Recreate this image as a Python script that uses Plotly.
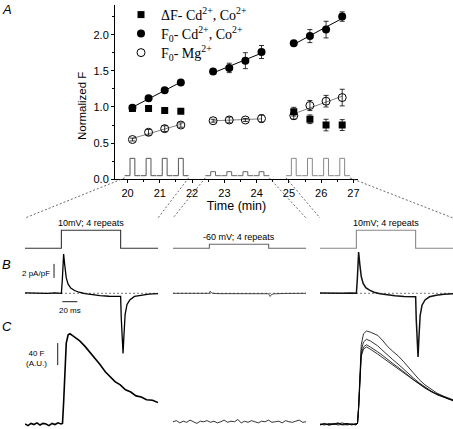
import numpy as np
import plotly.graph_objects as go

W, H = 453, 429

# ================= Panel A data =================
t_min = [20.15, 20.65, 21.15, 21.65, 22.65, 23.15, 23.65, 24.15, 25.15, 25.65, 26.15, 26.65]
groups = [0, 0, 0, 0, 1, 1, 1, 1, 2, 2, 2, 2]
f0_cdco = [0.99, 1.12, 1.23, 1.34, 1.49, 1.54, 1.64, 1.76, 1.88, 1.98, 2.07, 2.25]
f0_cdco_err = [0.02, 0.02, 0.02, 0.02, 0.03, 0.065, 0.11, 0.09, 0.02, 0.09, 0.115, 0.065]
f0_mg = [0.55, 0.65, 0.70, 0.75, 0.81, 0.82, 0.82, 0.84, 0.88, 1.02, 1.08, 1.13]
f0_mg_err = [0.02, 0.04, 0.04, 0.03, 0.02, 0.04, 0.02, 0.05, 0.05, 0.07, 0.08, 0.115]
df_t = [20.15, 20.65, 21.15, 21.65, 25.15, 25.65, 26.15, 26.65]
df_cdco = [0.98, 0.98, 0.95, 0.94, 0.935, 0.83, 0.75, 0.75]
df_err = [0.01, 0.01, 0.01, 0.01, 0.06, 0.06, 0.08, 0.075]
pulse_base = 0.05
pulse_top = [0.29, 0.105, 0.29]
x_ticks = [20, 21, 22, 23, 24, 25, 26, 27]
y_ticks = [0.0, 0.5, 1.0, 1.5, 2.0]

# ================= Panels B / C data =================
t_on, t_off, t_end = 48.5, 127.5, 177.3          # ms
hold_mv = -80
test_mv = [10, -60, 10]
proto_labels = ["10mV; 4 repeats", "-60 mV; 4 repeats", "10mV; 4 repeats"]

cur_t1 = [0, 10, 20, 30, 40, 48.5, 49.8, 51.5, 53, 55, 57.5, 61, 66, 72, 80, 90, 100, 112, 127.5, 128.3,
          129.5, 130.7, 132, 133.5, 136, 140, 146, 155, 165, 177.3]
cur_1 = [0.05, 0, 0.05, 0, 0.05, 0, 2.0, 5.6, 4.0, 2.2, 1.3, 0.75, 0.4, 0.15, -0.05, -0.2, -0.33, -0.42, -0.45, -3.5,
         -7.8, -8.6, -5.8, -3.0, -1.6, -0.9, -0.45, -0.25, -0.12, -0.05]
cur_t2 = [0, 20, 40, 48.5, 49.5, 50.5, 52, 60, 80, 100, 127.5, 128.5, 129.5, 131, 134, 150, 177.3]
cur_2 = [0, 0.03, 0, 0, 0.3, 0.15, 0.02, -0.05, -0.05, -0.06, -0.06, -0.3, -0.45, -0.2, -0.08, -0.02, 0]
cur_t3 = [0, 10, 20, 30, 40, 48.5, 49.8, 51.5, 53, 55, 57.5, 61, 66, 72, 80, 90, 100, 112, 127.5, 128.3,
          129.5, 130.7, 132, 133.5, 136, 140, 146, 155, 165, 177.3]
cur_3 = [0.05, 0, 0.05, 0, 0.05, 0, 2.1, 5.9, 4.2, 2.4, 1.4, 0.8, 0.45, 0.15, -0.05, -0.22, -0.35, -0.45, -0.48, -3.7,
         -8.2, -9.1, -6.1, -3.2, -1.7, -0.95, -0.5, -0.27, -0.13, -0.05]

fl_t1 = [0, 4, 8, 12, 16, 20, 24, 28, 32, 36, 40, 44, 48, 50, 51.5, 53, 55, 57.5, 60, 63, 67, 73, 80,
         87, 94, 100, 107, 113, 120, 127, 134, 141, 148, 155, 162, 170, 177.3]
fl_1 = [1, -2, 2, 0, 3, -1, 2, 1, -2, 2, 0, 3, 1, 2, 40, 100, 148, 163, 165, 162, 158, 152, 142,
        131, 119, 109, 96, 88, 78, 72, 63, 59, 52, 50, 45, 44, 40]
fl_2 = [5, 7, 3, 6, 4, 8, 5, 2, 6, 5, 7, 4, 6, 3, 5, 8, 4, 6, 5, 9, 3, 6, 4, 7, 5, 3, 6, 5, 8, 4,
        5, 6, 3, 7, 5, 4, 6, 8, 4, 5]
fl_t3 = [0, 6, 12, 18, 24, 30, 36, 42, 48, 50, 51.5, 53, 55, 58, 62, 67, 72, 77, 84, 90, 97, 104,
         111, 118, 125, 132, 140, 148, 156, 164, 171, 177.3]
fl_3a = [0, 2, -1, 1, 3, 0, 2, -1, 1, 2, 35, 95, 145, 165, 170, 168, 165, 162, 152, 142, 133, 125,
         115, 104, 93, 82, 72, 64, 57, 52, 48, 45]
fl_3b = [1, -1, 2, 0, 1, 3, -1, 1, 0, 2, 32, 88, 135, 150, 155, 152, 148, 143, 134, 126, 118, 110,
         101, 92, 84, 76, 68, 61, 55, 50, 47, 44]
fl_3c = [-1, 1, 0, 2, -1, 1, 2, 0, 1, 2, 30, 84, 128, 141, 145, 141, 137, 132, 125, 118, 111, 104,
         97, 89, 81, 74, 67, 60, 55, 50, 47, 44]
fl_3d = [0, 1, -1, 0, 2, -1, 0, 1, -1, 2, 28, 80, 124, 137, 141, 137, 133, 128, 121, 115, 108, 102,
         95, 87, 80, 73, 66, 60, 54, 50, 46, 43]

scale_I, scale_t, scale_F = 2, 20, 40

# ================= layout geometry (pixels) =================
A_x_px, A_y_px = (115, 358), (5, 179.3)
A_xr, A_yr = [19.61, 27.14], [0, 2.41]
col_px = [(25, 158), (173, 306), (320, 453)]


def px2x(p):
    return p / W


def px2y(p):
    return 1 - p / H


def lin_axis(px_top, px_bot, px_ref, val_ref, px_per_unit):
    top = val_ref + (px_ref - px_top) / px_per_unit
    bot = val_ref - (px_bot - px_ref) / px_per_unit
    return [px2y(px_bot), px2y(px_top)], [bot, top]


A_xdom = [px2x(A_x_px[0]), px2x(A_x_px[1])]
A_ydom = [px2y(A_y_px[1]), px2y(A_y_px[0])]
pro_dom, pro_rng = lin_axis(222, 252, 248.3, hold_mv, 0.2)
cur_dom, cur_rng = lin_axis(246, 362, 293.3, 0, 7.0)
fl_dom, fl_rng = lin_axis(322, 429, 424.5, 0, 0.55)


def a_paper(t, v):
    xp = A_xdom[0] + (t - A_xr[0]) / (A_xr[1] - A_xr[0]) * (A_xdom[1] - A_xdom[0])
    yp = A_ydom[0] + (v - A_yr[0]) / (A_yr[1] - A_yr[0]) * (A_ydom[1] - A_ydom[0])
    return xp, yp


fig = go.Figure()

# ---------- Panel A: stimulus schematic ----------
pulse_colors = ["#555555", "#666666", "#888888"]
pad, half_w = 0.24, 0.075
for g in range(3):
    ts = [t for t, gg in zip(t_min, groups) if gg == g]
    xs, ys = [], []
    for t in ts:
        xs += [t - pad, t - half_w, t - half_w, t + half_w, t + half_w, t + pad, None]
        ys += [pulse_base, pulse_base, pulse_top[g], pulse_top[g], pulse_base, pulse_base, None]
    fig.add_trace(go.Scatter(x=xs, y=ys, mode="lines", line=dict(color=pulse_colors[g], width=1),
                             showlegend=False, hoverinfo="skip", xaxis="x", yaxis="y"))

# ---------- Panel A: linear fits ----------
for vals, col in [(f0_cdco, "black"), (f0_mg, "#808080")]:
    for g in range(3):
        ts = np.array([t for t, gg in zip(t_min, groups) if gg == g])
        vs = np.array([v for v, gg in zip(vals, groups) if gg == g])
        k, b = np.polyfit(ts, vs, 1)
        xe = np.array([ts.min(), ts.max()])
        fig.add_trace(go.Scatter(x=xe, y=k * xe + b, mode="lines", line=dict(color=col, width=1),
                                 showlegend=False, hoverinfo="skip", xaxis="x", yaxis="y"))

err_style = dict(type="data", visible=True, color="black", thickness=0.8, width=2.5)
fig.add_trace(go.Scatter(x=df_t, y=df_cdco, mode="markers", name="ΔF- Cd<sup>2+</sup>, Co<sup>2+</sup>",
                         legend="legend",
                         marker=dict(symbol="square", size=7, color="black"),
                         error_y=dict(array=df_err, **err_style), xaxis="x", yaxis="y"))
fig.add_trace(go.Scatter(x=t_min, y=f0_cdco, mode="markers", name="F<sub>0</sub>- Cd<sup>2+</sup>, Co<sup>2+</sup>",
                         legend="legend2",
                         marker=dict(symbol="circle", size=8, color="black"),
                         error_y=dict(array=f0_cdco_err, **err_style), xaxis="x", yaxis="y"))
fig.add_trace(go.Scatter(x=t_min, y=f0_mg, mode="markers", name="F<sub>0</sub>- Mg<sup>2+</sup>",
                         legend="legend3",
                         marker=dict(symbol="circle-open", size=8, color="black", line=dict(width=1)),
                         error_y=dict(array=f0_mg_err, **err_style), xaxis="x", yaxis="y"))

# ---------- Panels B / C ----------
xa = ["x2", "x3", "x4"]
pro_colors = ["#333333", "#666666", "#888888"]
for c in range(3):
    fig.add_trace(go.Scatter(x=[0, t_on, t_off, t_end], y=[hold_mv, test_mv[c], hold_mv, hold_mv],
                             mode="lines", line=dict(color=pro_colors[c], width=1.1, shape="hv"),
                             showlegend=False, hoverinfo="skip", xaxis=xa[c], yaxis="y2"))
    fig.add_trace(go.Scatter(x=[0, t_end], y=[0, 0], mode="lines",
                             line=dict(color="#555555", width=0.8, dash="2px,2px"),
                             showlegend=False, hoverinfo="skip", xaxis=xa[c], yaxis="y3"))

cur_sets = [(cur_t1, cur_1, 1.3, "black"), (cur_t2, cur_2, 0.8, "#222222"), (cur_t3, cur_3, 1.5, "#111111")]
for c, (tt, yy, w, col) in enumerate(cur_sets):
    fig.add_trace(go.Scatter(x=tt, y=yy, mode="lines", line=dict(color=col, width=w),
                             showlegend=False, hoverinfo="skip", xaxis=xa[c], yaxis="y3"))

fig.add_trace(go.Scatter(x=fl_t1, y=fl_1, mode="lines", line=dict(color="black", width=1.6),
                         showlegend=False, hoverinfo="skip", xaxis="x2", yaxis="y4"))
fl_t2 = np.linspace(0, t_end, len(fl_2))
fig.add_trace(go.Scatter(x=fl_t2, y=fl_2, mode="lines", line=dict(color="black", width=0.8),
                         showlegend=False, hoverinfo="skip", xaxis="x3", yaxis="y4"))
for trace in [fl_3a, fl_3b, fl_3c, fl_3d]:
    fig.add_trace(go.Scatter(x=fl_t3, y=trace, mode="lines", line=dict(color="black", width=0.8),
                             showlegend=False, hoverinfo="skip", xaxis="x4", yaxis="y4"))

# scale bars (column 1 coordinates)
bar_I_t, bar_I_y0 = 38.7, 2.2
bar_t_t0, bar_t_y = 49.7, -1.2
bar_F_t, bar_F_y0 = 43.6, 108
fig.add_trace(go.Scatter(x=[bar_I_t, bar_I_t], y=[bar_I_y0, bar_I_y0 + scale_I], mode="lines",
                         line=dict(color="black", width=0.9), showlegend=False, hoverinfo="skip",
                         xaxis="x2", yaxis="y3"))
fig.add_trace(go.Scatter(x=[bar_t_t0, bar_t_t0 + scale_t], y=[bar_t_y, bar_t_y], mode="lines",
                         line=dict(color="black", width=0.9), showlegend=False, hoverinfo="skip",
                         xaxis="x2", yaxis="y3"))
fig.add_trace(go.Scatter(x=[bar_F_t, bar_F_t], y=[bar_F_y0, bar_F_y0 + scale_F], mode="lines",
                         line=dict(color="black", width=0.9), showlegend=False, hoverinfo="skip",
                         xaxis="x2", yaxis="y4"))

# ---------- connectors (dashed zoom lines) ----------
conn_y_px = 218
shapes = []
for g in range(3):
    ts = [t for t, gg in zip(t_min, groups) if gg == g]
    for t_top, px_bot in [(min(ts) - pad, col_px[g][0]), (max(ts) + pad, col_px[g][1])]:
        x0, y0 = a_paper(t_top, pulse_base * 0.4)
        shapes.append(dict(type="line", xref="paper", yref="paper", x0=x0, y0=y0,
                           x1=px2x(px_bot), y1=px2y(conn_y_px),
                           line=dict(color="#444444", width=0.8, dash="2px,2px")))

# ---------- annotations ----------
small = dict(family="Liberation Sans", size=8, color="black")
ann = []
for c in range(3):
    ann.append(dict(x=(t_on + t_off) / 2, y=test_mv[c], xref=xa[c], yref="y2", text=proto_labels[c],
                    showarrow=False, xanchor="center", yanchor="bottom", yshift=0,
                    font=dict(family="Liberation Sans", size=9, color="black")))
ann.append(dict(x=bar_I_t, y=bar_I_y0 + scale_I / 2, xref="x2", yref="y3", text="2 pA/pF",
                showarrow=False, xanchor="right", yanchor="middle", xshift=-2, yshift=-3, font=small))
ann.append(dict(x=bar_t_t0 + scale_t / 2, y=bar_t_y, xref="x2", yref="y3", text="20 ms",
                showarrow=False, xanchor="center", yanchor="top", yshift=-2, font=small))
ann.append(dict(x=bar_F_t, y=bar_F_y0 + scale_F / 2, xref="x2", yref="y4", text="40 F<br>(A.U.)",
                showarrow=False, xanchor="right", yanchor="middle", xshift=-9, yshift=-4, font=small))
for letter, px_x, px_y in [("A", 7, 10), ("B", 6, 264), ("C", 7, 326)]:
    ann.append(dict(x=px2x(px_x), y=px2y(px_y), xref="paper", yref="paper", text="<i>%s</i>" % letter,
                    showarrow=False, xanchor="center", yanchor="middle",
                    font=dict(family="Liberation Sans", size=13, color="black")))
# y-axis title of panel A
ann.append(dict(x=px2x(82), y=px2y(106), xref="paper", yref="paper", text="Normalized F", textangle=-90,
                showarrow=False, xanchor="center", yanchor="middle",
                font=dict(family="Liberation Sans", size=11.5, color="black")))

axis_common = dict(showline=True, linecolor="black", linewidth=1, ticks="outside", tickcolor="black",
                   ticklen=3, tickwidth=1, showgrid=False, zeroline=False, automargin=False,
                   tickfont=dict(family="Liberation Sans", size=11, color="black"))
hidden = dict(visible=False, showgrid=False, zeroline=False, fixedrange=True, automargin=False)

leg_common = dict(xanchor="left", yanchor="middle", bgcolor="rgba(0,0,0,0)", borderwidth=0,
                  font=dict(family="Liberation Serif", size=14, color="black"))
leg_x_px, leg_rows_px = 121, [15, 34, 53]

fig.update_layout(
    width=W, height=H, margin=dict(l=0, r=0, t=0, b=0, autoexpand=False),
    paper_bgcolor="white", plot_bgcolor="rgba(0,0,0,0)",
    showlegend=True, hovermode=False,
    legend=dict(x=px2x(leg_x_px), y=px2y(leg_rows_px[0]), **leg_common),
    legend2=dict(x=px2x(leg_x_px), y=px2y(leg_rows_px[1]), **leg_common),
    legend3=dict(x=px2x(leg_x_px), y=px2y(leg_rows_px[2]), **leg_common),
    xaxis=dict(domain=A_xdom, range=A_xr, anchor="y", tickmode="array", tickvals=x_ticks,
               minor=dict(tickvals=[t + 0.5 for t in x_ticks[:-1]], ticks="outside", ticklen=2, tickcolor="black"),
               title=dict(text="Time (min)", standoff=3,
                          font=dict(family="Liberation Sans", size=12.5, color="black")),
               **axis_common),
    yaxis=dict(domain=A_ydom, range=A_yr, anchor="x", tickmode="array", tickvals=y_ticks,
               tickformat=".1f",
               minor=dict(tickvals=[v + 0.25 for v in y_ticks], ticks="outside", ticklen=2, tickcolor="black"),
               **axis_common),
    xaxis2=dict(domain=[px2x(col_px[0][0]), px2x(col_px[0][1])], range=[0, t_end], anchor="y3", **hidden),
    xaxis3=dict(domain=[px2x(col_px[1][0]), px2x(col_px[1][1])], range=[0, t_end], anchor="y3", **hidden),
    xaxis4=dict(domain=[px2x(col_px[2][0]), px2x(col_px[2][1])], range=[0, t_end], anchor="y3", **hidden),
    yaxis2=dict(domain=pro_dom, range=pro_rng, anchor="x2", **hidden),
    yaxis3=dict(domain=cur_dom, range=cur_rng, anchor="x2", **hidden),
    yaxis4=dict(domain=fl_dom, range=fl_rng, anchor="x2", **hidden),
    shapes=shapes, annotations=ann,
)

fig.write_html("out.html", config={"displayModeBar": False, "staticPlot": False},
               post_script="document.body.style.margin='0';document.body.style.overflow='hidden';")
